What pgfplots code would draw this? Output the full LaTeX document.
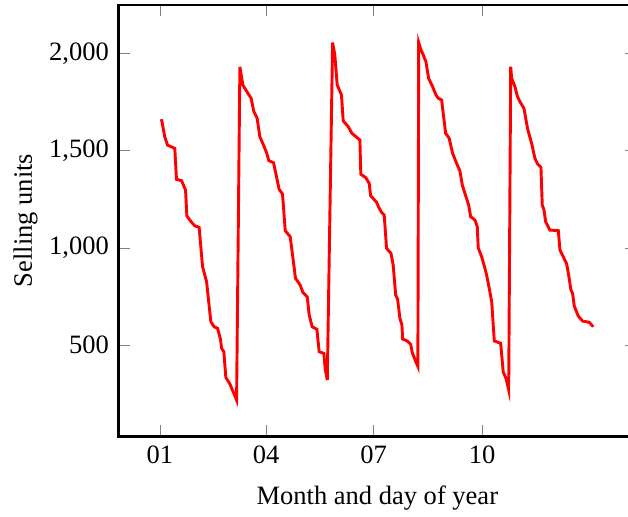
\documentclass[border=0pt]{standalone}
\usepackage{fontspec}
\setmainfont{Liberation Serif}
\usepackage{pgfplots}
\pgfplotsset{compat=1.18}
\usetikzlibrary{calc}
\begin{document}
\begin{tikzpicture}
\begin{axis}[
  scale only axis, width=195.5pt, height=162.6pt,
  xmin=-35.2, xmax=403.6, ymin=32, ymax=2248,
  xtick={0,90,181,273}, xticklabels={01,04,07,10},
  ytick={500,1000,1500,2000},
  /pgf/number format/assume math mode=true,
  /pgf/number format/1000 sep={,},
  xlabel={Month and day of year}, ylabel={Selling units},
  ylabel shift=-2.5pt, xlabel shift=1.5pt,
  axis line style={line width=1.1pt},
]
\addplot[red, line width=1.1pt, mark=none] table {
x y
1.4 1661
4.2 1571
6.5 1528
12.7 1511
14.1 1352
18.4 1345
21.8 1297
22.9 1163
26.9 1131
29.6 1113
33.3 1105
36.2 903
39.6 826
43.2 620
46.0 594
48.9 586
51.4 529
52.3 483
54.2 466
55.9 334
59.3 300
62.1 260
65.0 217
67.8 1930
70.3 1837
73.7 1803
77.3 1769
79.6 1700
82.4 1666
84.7 1571
87.8 1528
90.4 1489
92.3 1448
96.3 1437
98.5 1374
101.0 1301
103.9 1276
106.2 1088
110.4 1057
114.9 843
118.8 809
121.1 771
124.8 748
126.5 654
129.0 594
133.0 581
134.9 466
138.9 457
140.0 380
141.8 320
146.3 2055
148.2 1991
150.2 1837
153.8 1786
155.3 1652
159.5 1623
162.6 1589
169.4 1554
170.2 1378
174.5 1360
177.3 1331
178.5 1268
183.5 1234
185.8 1203
187.8 1182
190.0 1168
192.0 997
195.7 972
197.6 911
199.7 757
201.3 737
203.3 637
205.0 603
205.6 531
209.5 521
212.4 504
213.7 462
216.8 414
218.5 390
219.2 2055
221.1 2017
222.5 2000
225.3 1957
227.6 1871
231.0 1828
233.8 1786
235.7 1769
238.6 1760
242.0 1589
245.0 1563
247.9 1486
251.3 1434
254.1 1395
256.1 1323
259.2 1263
261.5 1220
263.2 1160
266.8 1143
268.8 1108
269.6 1000
272.5 954
275.3 894
276.7 860
278.9 792
281.0 723
283.2 521
287.4 512
288.6 509
290.8 360
293.1 329
295.4 269
297.1 1931
297.9 1871
300.7 1828
302.7 1780
304.9 1751
308.3 1717
311.5 1609
314.8 1537
317.6 1460
319.9 1431
322.7 1414
323.8 1220
325.3 1194
326.7 1134
330.3 1091
337.4 1088
338.8 989
341.6 954
344.5 917
346.4 851
348.1 783
349.5 766
350.9 701
354.3 649
358.0 623
363.6 617
367.0 594
};
\end{axis}
\pgfresetboundingbox
\coordinate (L) at ([xshift=-44.6pt,yshift=-30.2pt]current axis.south west);
\coordinate (U) at ([xshift=-3.2pt,yshift=1.9pt]current axis.north east);
\useasboundingbox (L) rectangle (U);
\end{tikzpicture}
\end{document}
